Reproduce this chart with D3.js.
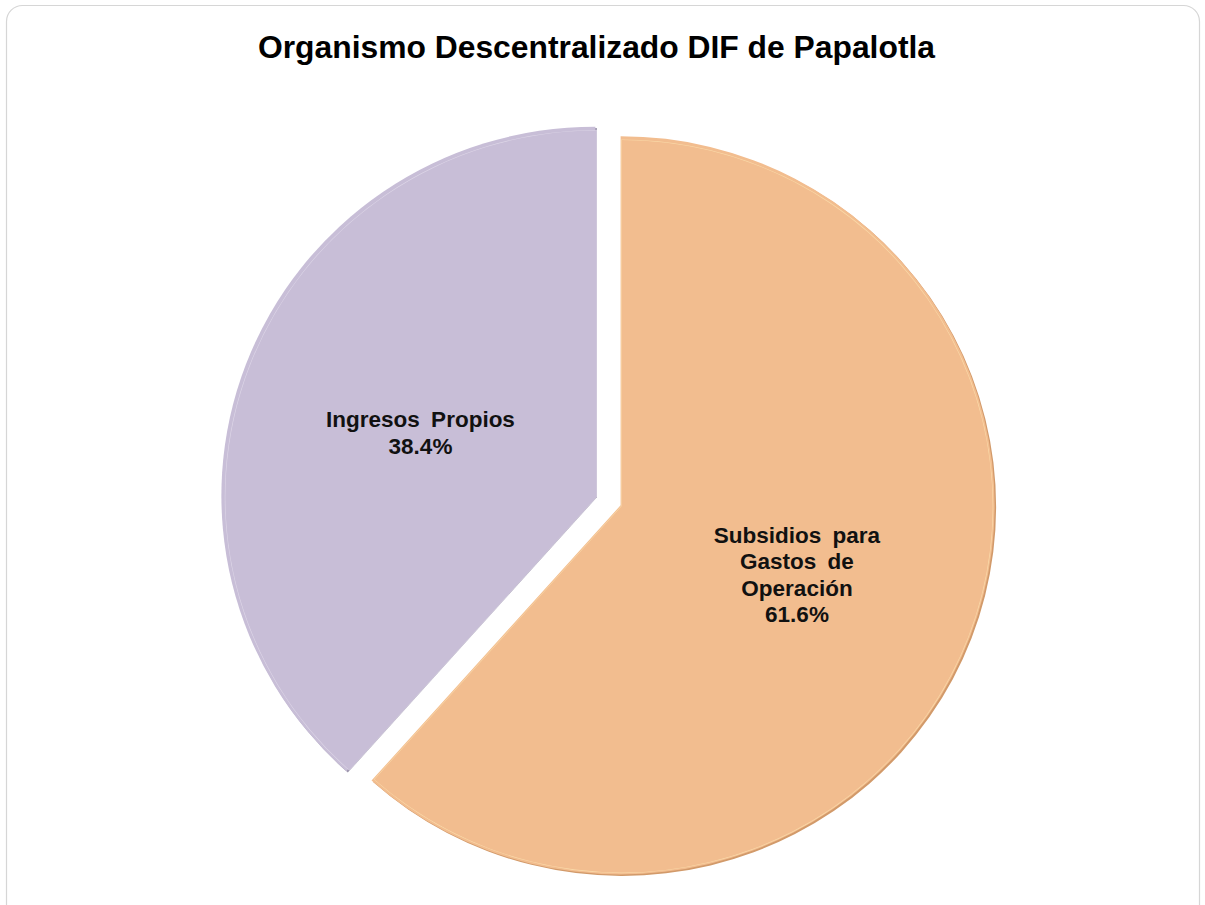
<!DOCTYPE html>
<html>
<head>
<meta charset="utf-8">
<script src="https://cdn.jsdelivr.net/npm/d3@7"></script>
<style>
  html, body { margin: 0; padding: 0; background: #ffffff; }
  svg { display: block; }
</style>
</head>
<body>
<svg id="chart" width="1205" height="905"></svg>
<script>
const title = "Organismo Descentralizado DIF de Papalotla";
const categories = ["Subsidios para Gastos de Operación", "Ingresos Propios"];
const values = [61.6, 38.4];
const labelLines = [["Subsidios para", "Gastos de", "Operación", "61.6%"], ["Ingresos Propios", "38.4%"]];
const fills = ["#F2BD8F", "#C8BED7"];
const edgeDark = ["#D29A6A", "#9C95AC"];
const edgeLight = ["#FCE2B0", "#E6E0EE"];

const svg = d3.select("#chart");

// frame
svg.append("rect").attr("x", 6.5).attr("y", 5.5).attr("width", 1193).attr("height", 920)
  .attr("rx", 16).attr("fill", "#ffffff").attr("stroke", "#d6d6d6").attr("stroke-width", 1.2);

// title
svg.append("text").attr("x", 596.5).attr("y", 58).attr("text-anchor", "middle")
  .attr("font-family", "Liberation Sans, Arial, sans-serif").attr("font-weight", "bold")
  .attr("font-size", 32).attr("fill", "#000")
  .attr("textLength", 677).attr("lengthAdjust", "spacingAndGlyphs").text(title);

const cx = 609.5, cy = 502, R = 374, explode = 13.5;
const pie = d3.pie().sort(null).value(d => d)(values);
const arc = d3.arc().innerRadius(0).outerRadius(R);
const arcInner = d3.arc().innerRadius(0).outerRadius(R - 3);

const g = svg.append("g").attr("transform", `translate(${cx},${cy}) scale(1,0.987)`);

pie.forEach((p, i) => {
  const mid = (p.startAngle + p.endAngle) / 2;
  const dx = Math.sin(mid) * explode, dy = -Math.cos(mid) * explode;
  const sg = g.append("g").attr("transform", `translate(${dx},${dy})`);
  sg.append("path").attr("d", arc(p)).attr("fill", edgeDark[i]);
  sg.append("path").attr("d", arc(p)).attr("fill", fills[i])
    .attr("transform", "translate(-1.5,-1.5)");
  sg.append("path").attr("d", arcInner(p)).attr("fill", "none")
    .attr("stroke", edgeLight[i]).attr("stroke-width", 1.2).attr("opacity", 0.7)
    .attr("transform", "translate(-0.5,-0.5)");
  sg.append("path").attr("d", arcInner(p)).attr("fill", fills[i])
    .attr("transform", "translate(-0.5,-0.5)").attr("stroke", "none");
});

// labels
const labelPos = [[797, 543], [420.5, 427]];
pie.forEach((p, i) => {
  const lines = labelLines[i];
  const lh = i === 0 ? 26.3 : 27;
  const t = svg.append("text").attr("text-anchor", "middle")
    .attr("font-family", "Liberation Sans, Arial, sans-serif").attr("font-weight", "bold")
    .attr("font-size", 22.5).attr("fill", "#111").attr("word-spacing", 5);
  lines.forEach((ln, k) => {
    t.append("tspan").attr("x", labelPos[i][0]).attr("y", labelPos[i][1] + k * lh).text(ln);
  });
});
</script>
</body>
</html>
